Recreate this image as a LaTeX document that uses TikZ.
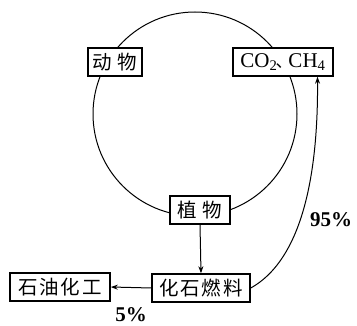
\documentclass[tikz,border=0pt]{standalone}
\usepackage{fontspec}
\setmainfont{Liberation Serif}
\newfontfamily\cjk{Noto Sans CJK SC}
\usetikzlibrary{arrows.meta,calc}
\begin{document}
\begin{tikzpicture}[x=1pt,y=-1pt,
  box/.style={draw,line width=1.5pt,fill=white,inner sep=0pt,minimum height=28pt,
    font=\cjk\fontsize{19.5}{19.5}\selectfont},
  conn/.style={line width=1pt,-{Stealth[length=7pt,width=5pt]}},
  pct/.style={font=\bfseries\fontsize{21}{21}\selectfont}]
\useasboundingbox (0,0) rectangle (357,326);
\draw[line width=1pt] (195,114) circle (102);
\node[box,minimum width=54pt] (dw) at (115,62) {动\hspace{6pt}物};
\node[box,minimum width=100pt,font=\fontsize{21}{21}\selectfont] (co) at (283,62) {CO\textsubscript{2}\hspace{-2pt}{\cjk\fontsize{17}{17}\selectfont 、}\hspace{-4pt}CH\textsubscript{4}};
\node[box,minimum width=60pt] (zw) at (200,210) {植\hspace{6pt}物};
\node[box,minimum width=98pt] (hs) at (201,288) {化\hspace{2pt}石\hspace{2pt}燃\hspace{2pt}料};
\node[box,minimum width=100pt] (sy) at (60,287) {石\hspace{2pt}油\hspace{2pt}化\hspace{2pt}工};
\coordinate (coin) at ($(co.south west)!0.84!(co.south east)$);
\draw[conn] (zw.south) -- (hs.north);
\draw[conn] (hs.west) -- (sy.east);
\draw[conn] (hs.east) .. controls (310,255) and (318,150) .. (coin);
\node[pct] (p5) at (131,315) {5\%};
\node[pct] (p95) at (331,220) {95\%};
\end{tikzpicture}
\end{document}
